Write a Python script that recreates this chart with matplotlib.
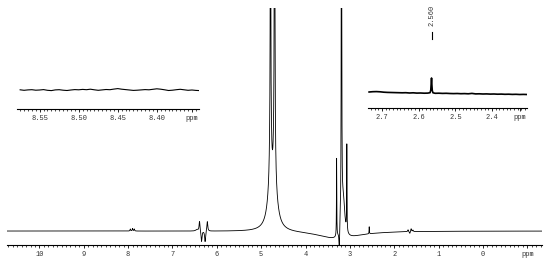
import numpy as np
import matplotlib
matplotlib.use("Agg")
import matplotlib.pyplot as plt
from matplotlib.ticker import FixedLocator, MultipleLocator

# Picos del espectro principal: posición (ppm), altura, semiancho (ppm)
peak_ppm = [7.95, 7.90, 7.86, 6.45, 6.39, 6.345, 6.265, 6.215,
            4.79, 4.79, 4.79, 4.70, 4.70, 4.70, 4.69,
            3.25, 3.30, 3.24, 3.19, 3.15, 3.07,
            2.565, 1.69, 1.65, 1.62, 1.58]
peak_height = [2, 2.5, 2, 1.5, 10, -11, -11, 10,
               600, 80, 30, 600, 80, 30, 60,
               -9, 78, -20, 600, 40, 86,
               7, 2, -2, 3, 1.5]
peak_width = [0.008, 0.008, 0.008, 0.03, 0.012, 0.012, 0.012, 0.012,
              0.004, 0.02, 0.08, 0.004, 0.02, 0.08, 0.006,
              0.5, 0.004, 0.01, 0.005, 0.04, 0.004,
              0.004, 0.01, 0.01, 0.01, 0.01]

main_ticks = [10, 9, 8, 7, 6, 5, 4, 3, 2, 1, 0, -1]
main_labels = ["10", "9", "8", "7", "6", "5", "4", "3", "2", "1", "0", "ppm"]

# Recuadro izquierdo (ruido 8.58 - 8.35 ppm)
left_ppm = np.round(np.arange(8.575, 8.3449, -0.005), 3)
left_int = [0.2, -0.3, 0.1, 0.3, -0.2, 0.0, 0.4, -0.3, -0.6, 0.1, 0.3, -0.2,
            -0.5, 0.0, 0.4, 0.2, 0.6, 0.3, 0.8, 0.2, -0.3, 0.1, 0.5, 0.3,
            0.9, 1.4, 0.8, 0.4, 0.0, -0.4, -0.2, 0.1, 0.4, 0.2, 0.7, 1.2,
            0.8, 0.2, -0.5, -0.2, 0.3, 0.7, 0.2, -0.3, 0.0, -0.4, -0.6]
left_ticks = [8.55, 8.50, 8.45, 8.40, 8.355]
left_labels = ["8.55", "8.50", "8.45", "8.40", "ppm"]

# Recuadro derecho (2.74 - 2.30 ppm)
right_ppm = [2.735, 2.725, 2.715, 2.705, 2.695, 2.685, 2.675, 2.665, 2.655,
             2.645, 2.635, 2.625, 2.615, 2.605, 2.595, 2.585, 2.575, 2.569,
             2.567, 2.566, 2.565, 2.564, 2.563, 2.561, 2.555, 2.545, 2.535,
             2.525, 2.515, 2.505, 2.495, 2.485, 2.475, 2.465, 2.455, 2.445,
             2.435, 2.425, 2.415, 2.405, 2.395, 2.385, 2.375, 2.365, 2.355,
             2.345, 2.335, 2.325, 2.315, 2.305]
right_int = [1.0, 1.3, 1.4, 1.2, 0.8, 0.6, 0.5, 0.4, 0.3, 0.2, 0.3, 0.0,
             0.2, -0.1, 0.0, -0.2, -0.1, 0.3, 3.0, 9.0, 15.0, 8.0, 2.5, 0.2,
             -0.3, -0.2, -0.4, -0.3, -0.5, -0.6, -0.5, -0.7, -0.6, -0.8,
             -0.4, -0.9, -0.8, -1.0, -0.9, -1.1, -1.0, -1.2, -1.1, -1.3,
             -1.2, -1.4, -1.3, -1.5, -1.4, -1.5]
right_ticks = [2.7, 2.6, 2.5, 2.4, 2.325]
right_labels = ["2.7", "2.6", "2.5", "2.4", "ppm"]
peak_label = "2.560"
peak_label_ppm = 2.565

W, H = 550, 262
fig = plt.figure(figsize=(W / 100, H / 100), dpi=100)
font = dict(family="Liberation Mono", size=5, color="#333333")


def style_axis(ax, ticks, labels, minor):
    for s in ["left", "right", "top"]:
        ax.spines[s].set_visible(False)
    ax.spines["bottom"].set_linewidth(0.8)
    ax.patch.set_alpha(0)
    ax.set_yticks([])
    ax.xaxis.set_major_locator(FixedLocator(ticks))
    ax.set_xticklabels(labels, fontdict=font)
    ax.xaxis.set_minor_locator(MultipleLocator(minor))
    ax.tick_params(axis="x", which="major", length=2.5, width=0.6, pad=1.5)
    ax.tick_params(axis="x", which="minor", length=1.5, width=0.5)


def px_axes(x0, x1, ybot, ytop):
    return fig.add_axes([x0 / W, 1 - ybot / H, (x1 - x0) / W, (ybot - ytop) / H])


# Espectro principal
ax = px_axes(7, 542, 245, 8)
ppm = np.linspace(10.73, -1.33, 40000)
spec = np.zeros_like(ppm)
for p, h, w in zip(peak_ppm, peak_height, peak_width):
    spec += h * w**2 / ((ppm - p) ** 2 + w**2)
ax.plot(ppm, spec, color="black", lw=0.6)
ax.set_xlim(10.73, -1.33)
ax.set_ylim(-14, 223)
style_axis(ax, main_ticks, main_labels, 0.1)

# Recuadro izquierdo
axl = px_axes(17, 199, 109, 60)
axl.plot(left_ppm, left_int, color="black", lw=0.8)
axl.set_xlim(8.579, 8.346)
axl.set_ylim(-19, 30)
style_axis(axl, left_ticks, left_labels, 0.005)

# Recuadro derecho
axr = px_axes(368, 527, 108, 2)
axr.plot(right_ppm, right_int, color="black", lw=1.2)
axr.set_xlim(2.738, 2.305)
axr.set_ylim(-15, 91)
style_axis(axr, right_ticks, right_labels, 0.01)
axr.plot([peak_label_ppm, peak_label_ppm], [54, 61], color="black", lw=0.8)
axr.text(peak_label_ppm, 67, peak_label, rotation=90, ha="center", va="bottom",
         fontdict=font)

fig.savefig("out.png", dpi=100)
